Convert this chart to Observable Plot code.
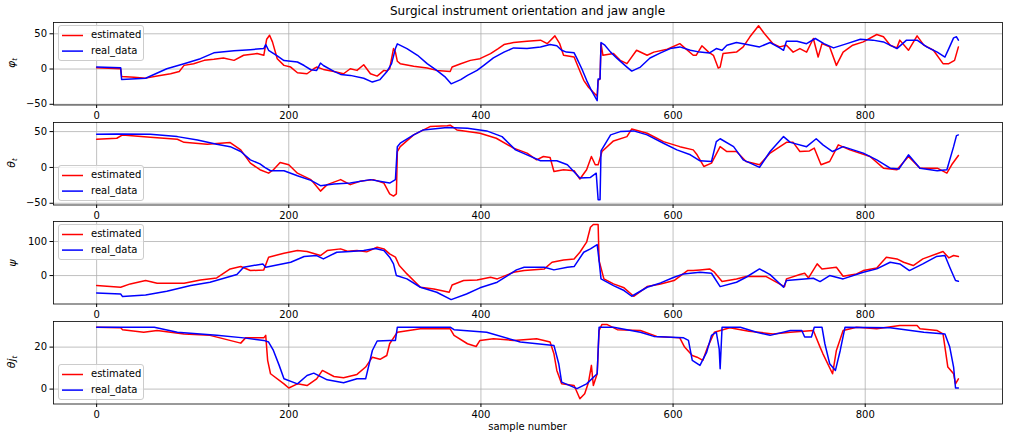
<!DOCTYPE html>
<html><head><meta charset="utf-8">
<script src="https://cdn.jsdelivr.net/npm/d3@7"></script>
<script src="https://cdn.jsdelivr.net/npm/@observablehq/plot@0.6"></script>
<style>
body{margin:0;background:#fff;}
#wrap{position:relative;width:1009px;height:441px;font-family:"DejaVu Sans",sans-serif;color:#000;overflow:hidden;background:#fff}
#wrap > svg{position:absolute;left:0}
.title{position:absolute;left:53px;width:949px;top:4px;text-align:center;font-size:12px;line-height:14px}
.xlab{position:absolute;left:53px;width:949px;top:421px;text-align:center;font-size:10px;line-height:12px}
.ylab{position:absolute;font-size:11px;transform:translate(-50%,-50%) rotate(-90deg);white-space:nowrap;font-family:"DejaVu Sans",sans-serif;font-style:italic;line-height:12px}
.ylab sub{font-size:7px;vertical-align:-2px}
.legend{position:absolute;left:58px;width:86px;height:36px;box-sizing:border-box;border:1px solid #cccccc;border-radius:3px;background:rgba(255,255,255,0.8);font-size:10px}
.legend svg{position:absolute;left:0;top:0}
.legend .tx{position:absolute;left:32px;line-height:12px;white-space:nowrap}
</style></head>
<body><div id="wrap"></div>
<script>
// ---- data: [sample number, value] ----
const xTicks = [0, 200, 400, 600, 800];
const seriesNames = ["estimated", "real_data"];
const yLabels = ["φ<sub>t</sub>", "θ<sub>t</sub>", "ψ", "θj<sub>t</sub>"];

const phiEst = [[0,2],[25,0.5],[26,-10.5],[39,-11.5],[51,-12.9],[63,-10],[77,-6.7],[86,-3.4],[91,5.2],[101,7.6],[112,12.3],[122,13.8],[132,15.7],[143,12.3],[153,19.5],[167,21.9],[174,19.5],[177,42.3],[180,48],[183,38.5],[188,14.7],[195,5.2],[202,2.8],[209,-5.2],[219,-6.7],[226,0.4],[229,2.8],[236,-0.5],[247,-3.4],[257,-6.7],[264,0.4],[271,-1.9],[278,6.1],[285,-6.7],[292,-10],[299,-1.9],[302,-2.9],[305,0.4],[309,29],[311,24],[313,11],[316,7.6],[330,3.8],[344,1.4],[354,-1.9],[368,-3.4],[370,2.8],[379,7.6],[389,12.3],[399,14.7],[410,21.9],[418,29],[424,34.7],[434,37.6],[448,39.5],[462,41],[469,36],[477,47],[482,36],[486,19.5],[497,17],[502,0.4],[507,-16],[512,-25.8],[517,-33],[521,-38.5],[522,-16],[524,-14],[525,36],[527,19.5],[538,21.9],[545,12.3],[552,7.6],[562,26.6],[573,19.5],[580,24],[594,28],[607,36],[621,19.5],[624,19.5],[630,33],[637,24],[642,19.5],[647,1.4],[649,2.8],[652,21.9],[666,24],[673,31.4],[680,45.7],[689,61.4],[695,50.4],[704,36],[711,31.4],[718,33.8],[725,24],[732,29],[739,24],[746,43.3],[751,17],[755,36],[763,31.4],[770,5.2],[777,24],[787,33.8],[798,38.5],[812,49],[819,45.7],[826,33.8],[833,30],[836,41],[845,26.6],[854,47],[861,33.8],[871,26.6],[881,7.6],[887,7.6],[893,12.3],[897,31.4]];
const phiReal = [[0,3],[25,2],[26,-14.8],[51,-13],[73,0.4],[91,7.6],[108,14.7],[122,23],[143,26],[160,27.5],[174,29],[176,34.7],[179,26.6],[188,18.5],[195,12],[202,11],[209,10],[216,5],[223,-1],[229,-2],[233,8.5],[236,5],[247,-3.4],[254,-7.6],[264,-9],[278,-13],[287,-18.5],[295,-15],[302,-4],[307,7.6],[311,29],[313,35.7],[323,29],[334,19.5],[344,7.6],[354,-2],[363,-11.5],[369,-21],[379,-15],[386,-9],[396,-2],[403,5.2],[413,15.7],[424,24],[434,30],[448,29],[462,31.4],[472,34.7],[479,33],[484,26.6],[489,24],[497,23],[500,14.7],[505,0.4],[510,-16],[515,-30.4],[521,-44.8],[522,-14],[524,-14],[525,37.6],[529,33.8],[535,24],[542,14.7],[552,2.8],[557,-2.9],[566,2.8],[576,15.7],[587,23],[597,29],[607,31.4],[618,26.6],[628,24],[638,22.8],[645,29],[651,26.6],[656,33.8],[666,37.6],[677,34.7],[690,31.4],[701,37.6],[711,30],[715,26.6],[718,39.5],[729,39.5],[739,36],[748,43.3],[757,36],[767,30],[781,36],[795,42.3],[808,41],[819,38.5],[833,29],[843,41],[854,41],[864,31.4],[875,24],[883,17],[887,29],[892,44.2],[895,45.7],[897,41]];

const thetaEst = [[0,39.4],[21,40.7],[27,45.4],[56,42],[84,39.4],[91,35],[115,32.4],[139,34.7],[150,24.5],[160,6],[170,-3.2],[179,-8],[184,-3.2],[191,7],[200,3.7],[209,-8],[223,-17],[233,-33],[240,-24],[254,-17],[264,-24],[274,-19.4],[288,-17],[299,-21.8],[305,-37],[309,-40],[312,-37],[313,22],[316,29],[330,45.4],[347,57],[365,58.3],[368,59],[375,52.3],[399,47.7],[416,40.7],[434,26.9],[448,20],[458,10.6],[465,15.3],[472,13.9],[476,-5.6],[486,-3.2],[497,-4.6],[503,-16.2],[510,-3.2],[515,15.3],[519,3.7],[522,3.7],[524,13],[526,22.2],[538,37],[552,43],[557,53.7],[573,47.7],[590,36],[607,29],[621,24.5],[625,17.6],[632,1.4],[640,6],[649,29],[656,22.2],[666,22.2],[676,8.3],[690,3.7],[701,20],[718,35],[725,35],[732,22.2],[742,23],[747,26.9],[754,3.7],[763,8.3],[772,31.5],[784,24.5],[805,15.3],[819,-1],[833,-3.2],[845,15.3],[857,-1],[875,-1],[885,-8],[890,3.7],[897,16.7]];
const thetaReal = [[0,46.3],[21,46.8],[56,46.3],[84,43],[105,38.4],[125,32.4],[139,29],[150,22.2],[160,10.6],[170,5],[175,0],[181,-4.6],[195,-4.6],[209,-11.6],[223,-18],[233,-25.5],[247,-23],[264,-21.8],[285,-17],[299,-20.4],[305,-21.8],[311,-17],[313,29],[316,33.8],[330,45.4],[340,52.3],[365,55.6],[386,54.6],[406,51],[422,43],[436,24.5],[448,17.6],[462,9.3],[479,9.3],[490,3.7],[503,-14.8],[514,-13.9],[520,-8],[522,-45],[524,-45],[525,23],[535,45.4],[545,50],[559,51],[573,45.4],[590,33.8],[604,24.5],[618,17.6],[628,9.3],[640,8.3],[645,36],[649,40],[663,29],[673,10.6],[690,0],[701,22.2],[715,43],[722,35],[739,29],[749,40],[756,31.5],[766,22.2],[777,29],[798,20],[812,10.6],[826,-1],[835,-2.3],[845,17.6],[857,-1],[875,-4.6],[885,-3.2],[892,29],[895,44.4],[897,45.4]];

const psiEst = [[0,-29.4],[25,-34.3],[35,-24.5],[51,-14.7],[63,-22.5],[91,-22.5],[108,-12.7],[125,-6.9],[139,19.6],[150,26.5],[160,14.7],[174,16.7],[179,54],[195,65.7],[209,73.5],[219,70.6],[233,58.8],[240,73.5],[254,78.4],[261,71.6],[271,73.5],[281,69.6],[292,83.3],[299,78.4],[305,63.7],[311,54],[315,29.4],[323,4.9],[337,-34.3],[351,-39.2],[367,-49],[370,-27.5],[382,-14.7],[396,-12.7],[410,-4.9],[417,-9.8],[434,9.8],[445,14.7],[466,19.6],[474,39.2],[486,46],[497,49],[503,68.6],[510,98],[514,142],[517,150],[522,150],[523,44],[528,-9.8],[538,-24.5],[549,-36],[559,-60.8],[573,-32.4],[587,-24.5],[601,-14.7],[615,14.7],[621,14.7],[628,16.7],[638,19.6],[643,9.8],[651,-17.6],[666,-9.8],[676,-2.9],[697,-2.9],[716,-32.4],[718,-9.8],[732,2.9],[737,6.9],[741,-6.9],[750,34.3],[755,19.6],[770,24.5],[777,-2],[791,4.9],[798,14.7],[812,22.5],[822,53.9],[833,49],[840,39.2],[850,29.4],[860,49],[881,70.6],[887,52],[892,58.8],[897,55.9]];
const psiReal = [[0,-51],[25,-54],[27,-61.8],[51,-56.9],[73,-46],[98,-29.4],[118,-19.6],[146,2.9],[153,24.5],[173,34.3],[176,24.5],[202,39.2],[216,55.9],[229,58.8],[236,49],[250,68.6],[264,70.6],[278,73.5],[290,79.4],[299,73.5],[305,54],[309,34.3],[312,0],[323,-9.8],[337,-34.3],[354,-49],[369,-70.6],[385,-54],[399,-36],[417,-19.6],[437,16.7],[445,24.5],[466,24.5],[476,16.7],[490,24.5],[497,26.5],[507,68.6],[514,78.4],[521,91],[523,44],[525,-9.8],[538,-29.4],[549,-44],[557,-60.8],[573,-34.3],[587,-21.6],[601,-4.9],[611,4.9],[618,6.9],[628,9.8],[640,6.9],[649,-32.4],[666,-19.6],[676,-4.9],[690,19.6],[701,2.9],[715,-34.3],[718,-14.7],[746,-7.8],[753,-17.6],[763,0],[777,-9.8],[798,9.8],[812,19.6],[826,39.2],[836,34.3],[846,14.7],[860,34.3],[874,55.9],[883,58.8],[888,24.5],[894,-14.7],[897,-16.7]];

const jawEst = [[0,29.5],[25,29.2],[27,28.3],[49,27.1],[63,27.9],[91,26.3],[118,25.6],[150,21.9],[155,24.4],[174,24.4],[176,25.6],[178,13.7],[181,7.3],[195,2.5],[200,0.5],[209,2.5],[219,1.7],[229,4.9],[235,8.9],[247,6],[257,5.4],[271,7],[280,10.5],[287,15.2],[295,14.2],[302,16],[305,21.6],[313,27.1],[337,28.7],[368,28.7],[372,25.6],[386,21.6],[395,20.3],[399,23.2],[413,24],[434,23.2],[458,24],[472,22.4],[476,16.8],[479,8.9],[484,2.5],[497,1.7],[503,-4.6],[508,-2.2],[512,3.3],[515,11.3],[517,1.7],[521,7.3],[523,27.9],[526,30.8],[531,30.8],[542,28.3],[566,27.9],[583,25.1],[607,24.4],[612,20],[620,16],[625,15.2],[631,13.7],[636,20],[643,27.1],[659,29.2],[679,27.6],[704,26.3],[722,27.1],[746,27.9],[753,20],[756,16.8],[766,7.3],[770,18.4],[777,27.9],[791,29.5],[812,28.7],[836,30.3],[854,30.3],[857,28.7],[875,27.9],[881,26.3],[886,10.5],[892,7.3],[894,2.5],[897,4.9]];
const jawReal = [[0,29.5],[60,29.5],[84,27.1],[125,25.6],[153,24.4],[174,23.2],[179,22.4],[184,18.4],[190,11.3],[195,4.9],[209,2.5],[219,6.5],[226,7.6],[240,4.4],[257,3],[271,4.9],[280,4.9],[287,18.4],[292,22.9],[305,23.2],[311,23.2],[313,29.5],[368,29.5],[372,28.3],[406,27.1],[441,22.4],[476,20.8],[481,12.1],[484,3.3],[500,0.2],[510,2.5],[521,7.3],[523,29.5],[538,29.5],[566,27.1],[580,25.1],[611,24.4],[616,23.2],[620,13.7],[628,11.3],[635,17.6],[640,25.6],[645,27.1],[648,19.2],[649,9.7],[651,29.5],[670,29.5],[687,27.1],[701,25.6],[722,27.9],[734,27.9],[737,24.8],[744,24.8],[747,29.5],[755,29.5],[758,21.6],[763,12.1],[769,8.9],[774,18.4],[779,29.5],[826,29.2],[861,27.1],[883,26.3],[888,20],[892,10.5],[894,0.5],[897,0.5]];

const phiTicks = [-50, 0, 50];
const thetaTicks = [-50, 0, 50];
const psiTicks = [0, 100];
const jawTicks = [0, 20];

// ---- layout ----
const xDomain = [-44.9, 942.9];
const FH = 82.5, MT = 4, MB = 22;
const panels = [
  {est: phiEst, real: phiReal, ticks: phiTicks, domain: [-51, 66], top: 22, legendTop: 25, label: yLabels[0]},
  {est: thetaEst, real: thetaReal, ticks: thetaTicks, domain: [-52.4, 62.7], top: 121.7, legendTop: 165, label: yLabels[1]},
  {est: psiEst, real: psiReal, ticks: psiTicks, domain: [-83.5, 158.8], top: 221.3, legendTop: 224, label: yLabels[2]},
  {est: jawEst, real: jawReal, ticks: jawTicks, domain: [-7.1, 32.2], top: 320.6, legendTop: 364, label: yLabels[3]}
];
const colors = ["red", "blue"];
const fmt = d => String(d).replace("-", "\u2212");
const NS = "http://www.w3.org/2000/svg";

const wrap = document.getElementById("wrap");
const title = document.createElement("div");
title.className = "title";
title.textContent = "Surgical instrument orientation and jaw angle";
wrap.appendChild(title);

panels.forEach(p => {
  const svg = Plot.plot({
    width: 1009,
    height: FH + MT + MB,
    marginLeft: 53, marginRight: 7, marginTop: MT, marginBottom: MB,
    style: {background: "transparent", fontSize: "10px", fontFamily: "DejaVu Sans, sans-serif", color: "black", overflow: "visible"},
    x: {domain: xDomain, ticks: xTicks, tickSize: 3.5, tickPadding: 3, label: null, tickFormat: fmt},
    y: {domain: p.domain, ticks: p.ticks, tickSize: 3.5, tickPadding: 3, label: null, tickFormat: fmt},
    marks: [
      Plot.ruleX(xTicks, {stroke: "#b0b0b0", strokeWidth: 0.8}),
      Plot.ruleY(p.ticks, {stroke: "#b0b0b0", strokeWidth: 0.8}),
      Plot.line(p.est, {x: d => d[0], y: d => d[1], stroke: colors[0], strokeWidth: 1.5}),
      Plot.line(p.real, {x: d => d[0], y: d => d[1], stroke: colors[1], strokeWidth: 1.5}),
      Plot.frame({stroke: "black", strokeWidth: 0.8})
    ]
  });
  svg.style.top = (p.top - MT) + "px";
  wrap.appendChild(svg);

  const yl = document.createElement("div");
  yl.className = "ylab";
  yl.innerHTML = p.label;
  yl.style.left = "13px";
  yl.style.top = (p.top + FH / 2) + "px";
  wrap.appendChild(yl);

  const lg = document.createElement("div");
  lg.className = "legend";
  lg.style.top = p.legendTop + "px";
  const ls = document.createElementNS(NS, "svg");
  ls.setAttribute("width", "84");
  ls.setAttribute("height", "34");
  seriesNames.forEach((name, i) => {
    const ln = document.createElementNS(NS, "line");
    const yy = 9.5 + i * 15.6;
    ln.setAttribute("x1", "3"); ln.setAttribute("x2", "24");
    ln.setAttribute("y1", yy); ln.setAttribute("y2", yy);
    ln.setAttribute("stroke", colors[i]);
    ln.setAttribute("stroke-width", "1.5");
    ls.appendChild(ln);
    const tx = document.createElement("div");
    tx.className = "tx";
    tx.textContent = name;
    tx.style.top = (3.4 + i * 15.6) + "px";
    lg.appendChild(tx);
  });
  lg.appendChild(ls);
  wrap.appendChild(lg);
});

const xl = document.createElement("div");
xl.className = "xlab";
xl.textContent = "sample number";
wrap.appendChild(xl);
</script>
</body></html>
